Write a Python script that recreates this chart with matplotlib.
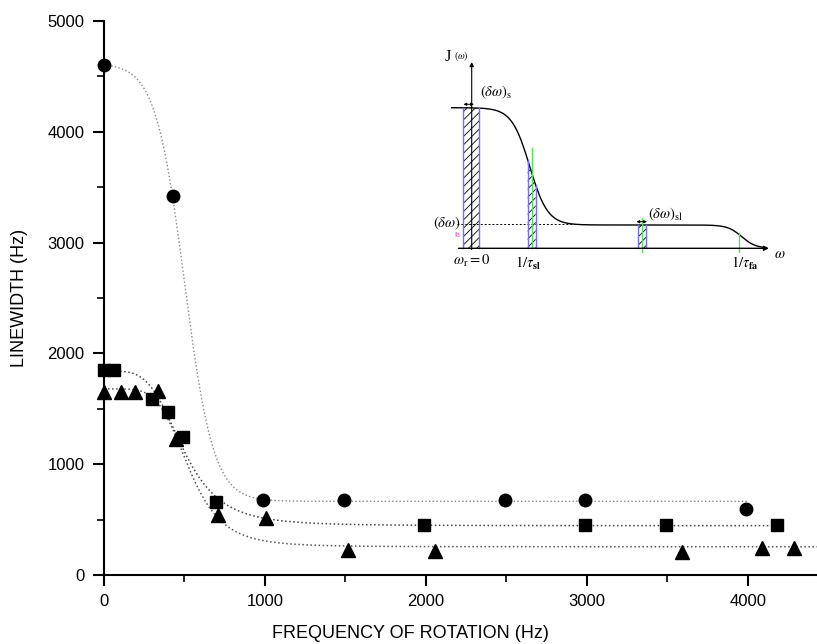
import numpy as np
import matplotlib
matplotlib.use("Agg")
import matplotlib.pyplot as plt
from matplotlib.ticker import MultipleLocator

plt.rcParams['font.family'] = ['Liberation Sans', 'DejaVu Sans']
plt.rcParams['mathtext.fontset'] = 'stix'
plt.rcParams['hatch.linewidth'] = 0.6

# ---- data ----
circle_x = [0, 430, 990, 1493, 2491, 2988, 3986]
circle_y = [4600, 3420, 677, 677, 677, 677, 596]

square_x = [0, 60, 296, 400, 493, 696, 1990, 2988, 3489, 4184]
square_y = [1850, 1850, 1585, 1474, 1243, 662, 451, 450, 450, 450]

tri_x = [0, 104, 192, 333, 445, 710, 1006, 1513, 2056, 3594, 4089, 4288]
tri_y = [1650, 1650, 1650, 1660, 1227, 541, 512, 226, 220, 208, 246, 246]

# fitted curve parameters (estimated)
circle_fit = dict(A1=4620, A2=665, x0=500, dx=90, xmax=4000)      # Boltzmann
square_fit = dict(A1=1840, A2=445, x0=490, p=4.2, xmax=4200)      # logistic
tri_fit = dict(A1=1680, A2=255, x0=527, p=5.09, xmax=4430)        # logistic

xticks = [0, 1000, 2000, 3000, 4000]
yticks = [0, 1000, 2000, 3000, 4000, 5000]

def boltzmann(x, A1, A2, x0, dx, **kw):
    return A2 + (A1 - A2) / (1 + np.exp((x - x0) / dx))

def logistic(x, A1, A2, x0, p, **kw):
    return A2 + (A1 - A2) / (1 + (x / x0) ** p)

fig = plt.figure(figsize=(8.17, 6.44), dpi=100)
ax = fig.add_axes([104/817, 69/644, 713/817, 554/644])

xc = np.linspace(0, circle_fit['xmax'], 600)
xs = np.linspace(0, square_fit['xmax'], 600)
xt = np.linspace(0, tri_fit['xmax'], 600)
ax.plot(xc, boltzmann(xc, **circle_fit), ls=':', lw=1.0, color='#888888', zorder=1)
ax.plot(xs, logistic(xs, **square_fit), ls=':', lw=1.1, color='#444444', zorder=1)
ax.plot(xt, logistic(xt, **tri_fit), ls=':', lw=1.1, color='#555555', zorder=1)

ax.plot(circle_x, circle_y, 'o', color='k', ms=9, ls='none', zorder=3, clip_on=False)
ax.plot(square_x, square_y, 's', color='k', ms=8.5, ls='none', zorder=3, clip_on=False)
ax.plot(tri_x, tri_y, '^', color='k', ms=10, ls='none', zorder=3, clip_on=False)

ax.set_xlim(0, 4430)
ax.set_ylim(0, 5000)
ax.set_xticks(xticks)
ax.set_yticks(yticks)
ax.xaxis.set_minor_locator(MultipleLocator(500))
ax.yaxis.set_minor_locator(MultipleLocator(500))
for s in ['top', 'right']:
    ax.spines[s].set_visible(False)
for s in ['left', 'bottom']:
    ax.spines[s].set_linewidth(1.5)
ax.tick_params(which='major', direction='out', length=8, width=1.5, labelsize=12, pad=6)
ax.tick_params(which='minor', direction='out', length=5, width=1.2)
ax.set_xlabel('FREQUENCY OF ROTATION (Hz)', fontsize=13)
ax.xaxis.set_label_coords((410-104)/713, -50/554)
ax.set_ylabel('LINEWIDTH (Hz)', fontsize=13)
ax.yaxis.set_label_coords(-76/713, 0.5)

# ---- inset schematic ----
ins = fig.add_axes([430/817, (644-280)/644, 370/817, 240/644])
ins.set_xlim(-41.7, 328.3)
ins.set_ylim(-31.7, 208.3)
ins.axis('off')

J_top, J_plat = 140.6, 23.3
step1_c, step1_w = 58, 9
step2_c, step2_w = 270, 7

def J(w):
    return (J_plat + (J_top - J_plat) / (1 + np.exp((w - step1_c) / step1_w))) / (1 + np.exp((w - step2_c) / step2_w))

w = np.linspace(-20, 294, 800)
ins.plot(w, J(w), color='k', lw=1.0)
ins.annotate('', xy=(300, 0), xytext=(-16, 0),
             arrowprops=dict(arrowstyle='-|>', color='k', lw=1.0, mutation_scale=7))
ins.annotate('', xy=(0, 189), xytext=(0, -4),
             arrowprops=dict(arrowstyle='-|>', color='k', lw=0.8, mutation_scale=6))
ins.plot([-15, 108], [24, 24], ls=(0, (2, 2)), color='k', lw=0.7)

blue = '#6f6fff'
green = '#55e055'
bars = [(-8.4, 7.6), (56, 64), (166.3, 174)]
for (a, b) in bars:
    bw = np.linspace(a, b, 50)
    ins.fill_between(bw, 0, J(bw), facecolor='none', edgecolor='k', hatch='////', lw=0)
    ins.plot([a, a], [0, J(a)], color=blue, lw=1.0)
    ins.plot([b, b], [0, J(b)], color=blue, lw=1.0)
ins.plot([60, 60], [0, 100.6], color=green, lw=1.0)
ins.plot([170.3, 170.3], [-3.4, 30], color=green, lw=1.0)
ins.plot([267.3, 267.3], [-3.4, 15], color=green, lw=1.0)

ins.annotate('', xy=(-11, 144), xytext=(5, 144),
             arrowprops=dict(arrowstyle='<|-|>', color='k', lw=0.7, mutation_scale=4))
ins.annotate('', xy=(162, 26.6), xytext=(178, 26.6),
             arrowprops=dict(arrowstyle='<|-|>', color='k', lw=0.7, mutation_scale=4))

tf = 10.5
ins.text(-21, 191, 'J', fontsize=12, family='Liberation Serif', ha='right', va='center')
ins.text(-3, 192, r'$(\omega)$', fontsize=7, ha='right', va='center')
ins.text(8.3, 156, r'$(\delta\omega)_\mathrm{s}$', fontsize=tf, ha='left', va='center')
ins.text(176, 34, r'$(\delta\omega)_\mathrm{sl}$', fontsize=tf, ha='left', va='center')
ins.text(-10.5, 25, r'$(\delta\omega)$', fontsize=tf, ha='right', va='center')
ins.text(-14, 13, 'fa', fontsize=5, color='#ff55cc', ha='center', va='center')
ins.text(0, -13, r'$\omega_\mathrm{r} = 0$', fontsize=tf, ha='center', va='center')
ins.text(56, -15, r'$1/\tau_\mathbf{sl}$', fontsize=tf, ha='center', va='center')
ins.text(273, -15, r'$1/\tau_\mathbf{fa}$', fontsize=tf, ha='center', va='center')
ins.text(302, -6, r'$\omega$', fontsize=tf, ha='left', va='center')

fig.savefig('out.png', dpi=100)
